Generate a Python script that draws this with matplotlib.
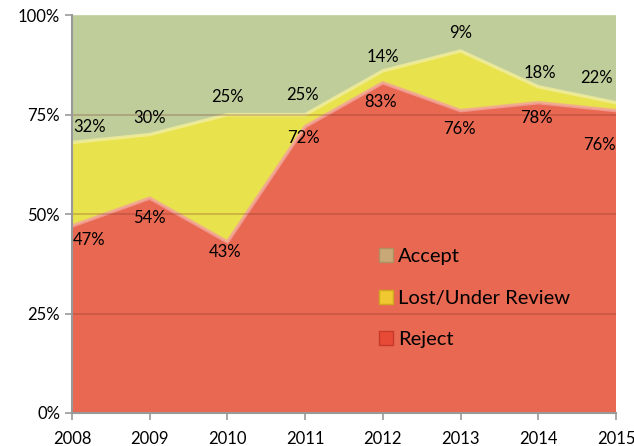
import numpy as np
import matplotlib.pyplot as plt
from matplotlib.patches import Patch

plt.rcParams['font.family'] = ['Lato', 'DejaVu Sans']

# data (percent)
years = [2008, 2009, 2010, 2011, 2012, 2013, 2014, 2015]
reject = [47, 54, 43, 72, 83, 76, 78, 76]
accept = [32, 30, 25, 25, 14, 9, 18, 22]
lost = [100 - r - a for r, a in zip(reject, accept)]

c_reject = '#E86852'
c_lost = '#E8E24C'
c_accept = '#BFCD9A'

fig = plt.figure(figsize=(6.34, 4.46), dpi=100)
ax = fig.add_axes([0.1136, 0.074, 0.858, 0.892])

x = np.arange(len(years))
ax.stackplot(x, reject, lost, accept, colors=[c_reject, c_lost, c_accept],
             edgecolor='none')
# soft edges along the boundaries
top_rej = np.array(reject)
top_lost = top_rej + np.array(lost)
ax.plot(x, top_lost, color='#F2EE9A', lw=2.5, alpha=0.8)
ax.plot(x, top_rej, color='#F3A39A', lw=2.5, alpha=0.8)

for g in [25, 50, 75]:
    ax.axhline(g, color='#7A3020', lw=1.2, alpha=0.3)

ax.set_xlim(0, len(years) - 1)
ax.set_ylim(0, 100)
ax.set_xticks(x)
ax.set_xticklabels([str(y) for y in years])
ax.set_yticks([0, 25, 50, 75, 100])
ax.set_yticklabels(['0%', '25%', '50%', '75%', '100%'])
ax.tick_params(axis='both', labelsize=12, color='#999999', length=5, width=1.2)
ax.tick_params(axis='x', pad=8)
for s in ['top', 'right']:
    ax.spines[s].set_visible(False)
for s in ['left', 'bottom']:
    ax.spines[s].set_color('#999999')
    ax.spines[s].set_linewidth(1.5)

# value labels (offsets in points)
acc_off = [(13, 11), (0, 12), (0, 13), (-2, 14), (0, 10), (0, 13), (1, 10), (-14, 18)]
rej_off = [(12, -10), (0, -14), (-2, -7), (-1, -8), (-2, -14), (-1, -13), (-1, -11), (-12, -25)]
for i in range(len(years)):
    ax.annotate(f'{accept[i]}%', (x[i], top_lost[i]), xytext=acc_off[i],
                textcoords='offset points', ha='center', va='center', fontsize=12)
    ax.annotate(f'{reject[i]}%', (x[i], top_rej[i]), xytext=rej_off[i],
                textcoords='offset points', ha='center', va='center', fontsize=12)

handles = [Patch(facecolor='#C9A878', edgecolor='#B09060'),
           Patch(facecolor='#F0C830', edgecolor='#D0A820'),
           Patch(facecolor='#E84A38', edgecolor='#C83A28')]
ax.legend(handles, ['Accept', 'Lost/Under Review', 'Reject'],
          loc='upper left', bbox_to_anchor=(0.545, 0.44), frameon=False,
          fontsize=14.5, handlelength=0.7, handleheight=0.7, handletextpad=0.25,
          labelspacing=1.22, borderpad=0)

fig.savefig('out.png', dpi=100)
